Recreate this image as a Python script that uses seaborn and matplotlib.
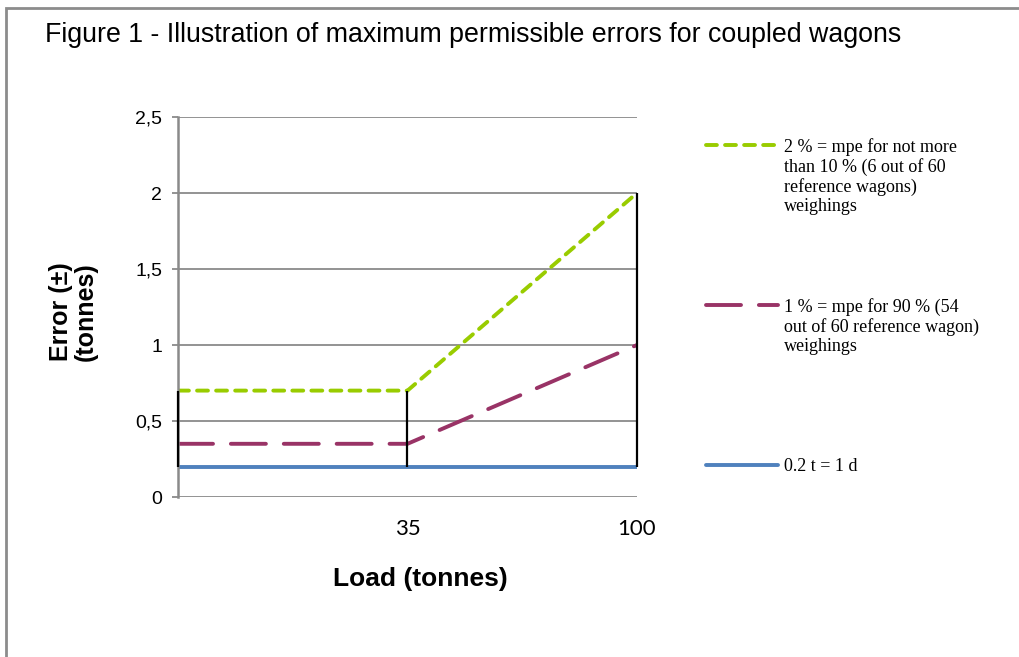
import pandas as pd
import seaborn as sns
import matplotlib.pyplot as plt
from matplotlib.ticker import FuncFormatter
from matplotlib.patches import Rectangle

# 数据
loads = ["", "35", "100"]
mpe_2pct = [0.7, 0.7, 2.0]
mpe_1pct = [0.35, 0.35, 1.0]
one_d = [0.2, 0.2, 0.2]
labels = ["2 % = mpe for not more\nthan 10 % (6 out of 60\nreference wagons)\nweighings",
          "1 % = mpe for 90 % (54\nout of 60 reference wagon)\nweighings",
          "0.2 t = 1 d"]
colors = ["#99CC00", "#993366", "#4F81BD"]

rows = []
for lab, vals in zip(labels, [mpe_2pct, mpe_1pct, one_d]):
    for x, v in zip(loads, vals):
        rows.append({"load": x, "error": v, "series": lab})
data = pd.DataFrame(rows)

sns.set_theme(style="white")
plt.rcParams["font.family"] = ["Liberation Sans", "DejaVu Sans"]
plt.rcParams["text.color"] = "black"
plt.rcParams["axes.labelcolor"] = "black"

fig = plt.figure(figsize=(10.2, 6.57), dpi=100)
ax = fig.add_axes([178/1020, 1-497/657, (637-178)/1020, (497-117)/657])

dashes = {labels[0]: (2.8, 2.1), labels[1]: (9, 4.6), labels[2]: ""}
sns.lineplot(data=data, x="load", y="error", hue="series", style="series",
             palette=dict(zip(labels, colors)), dashes=dashes, sort=False,
             linewidth=2.8, legend=False, ax=ax)
for ln in ax.lines:
    ln.set_dash_capstyle("round")
    ln.set_solid_capstyle("round")

# high-low lines
lows = [min(a, b, c) for a, b, c in zip(mpe_2pct, mpe_1pct, one_d)]
highs = [max(a, b, c) for a, b, c in zip(mpe_2pct, mpe_1pct, one_d)]
ax.vlines(range(len(loads)), lows, highs, colors="black", linewidth=1.6,
          zorder=3, clip_on=False)

ax.set_xlim(0, len(loads) - 1)
ax.set_ylim(0, 2.5)
ax.set_yticks([0, 0.5, 1, 1.5, 2, 2.5])
ax.yaxis.set_major_formatter(FuncFormatter(lambda v, p: f"{v:g}".replace(".", ",")))
ax.grid(axis="y", color="#8a8a8a", linewidth=1.3)
ax.set_axisbelow(True)
for s in ["top", "right", "bottom"]:
    ax.spines[s].set_visible(False)
ax.spines["left"].set_color("#8a8a8a")
ax.spines["left"].set_linewidth(1.8)
ax.tick_params(axis="y", left=True, length=4.5, width=1.3, color="#8a8a8a",
               pad=7, labelsize=14, labelcolor="black")
ax.tick_params(axis="x", bottom=False, pad=10, labelsize=16, labelcolor="black")
for t in ax.get_xticklabels():
    t.set_family(["Lato", "DejaVu Sans"])

ax.set_xlabel("Load (tonnes)", fontsize=19, fontweight="bold")
ax.xaxis.set_label_coords(0.527, -0.185)
ax.set_ylabel("Error (±)\n(tonnes)", fontsize=18, fontweight="bold", linespacing=1.05)
ax.yaxis.set_label_coords(-0.174, 0.487)

# legend, one entry per block
tops = [138, 298, 458]
for ln, lab, top in zip(ax.lines[:3], labels, tops):
    leg = fig.legend([ln], [lab], loc="upper left", bbox_to_anchor=(706/1020, 1-top/657),
                     frameon=False, handlelength=4.0, handleheight=1.0, handletextpad=0.3,
                     borderpad=0, borderaxespad=0,
                     prop={"family": "Liberation Serif", "size": 13})
    for t in leg.get_texts():
        t.set_linespacing(1.15)
    for col in leg._legend_handle_box.get_children():
        for item in col.get_children():
            item.align = "top"

fig.text(45/1020, 1-35/657, "Figure 1 - Illustration of maximum permissible errors for coupled wagons",
         fontsize=19.3, va="center", ha="left")

fig.add_artist(Rectangle((6/1020, -0.1), 1.1, 1.1 - 8/657, transform=fig.transFigure,
                         fill=False, edgecolor="#8c8c8c", linewidth=2))

fig.savefig("out.png", dpi=100)
